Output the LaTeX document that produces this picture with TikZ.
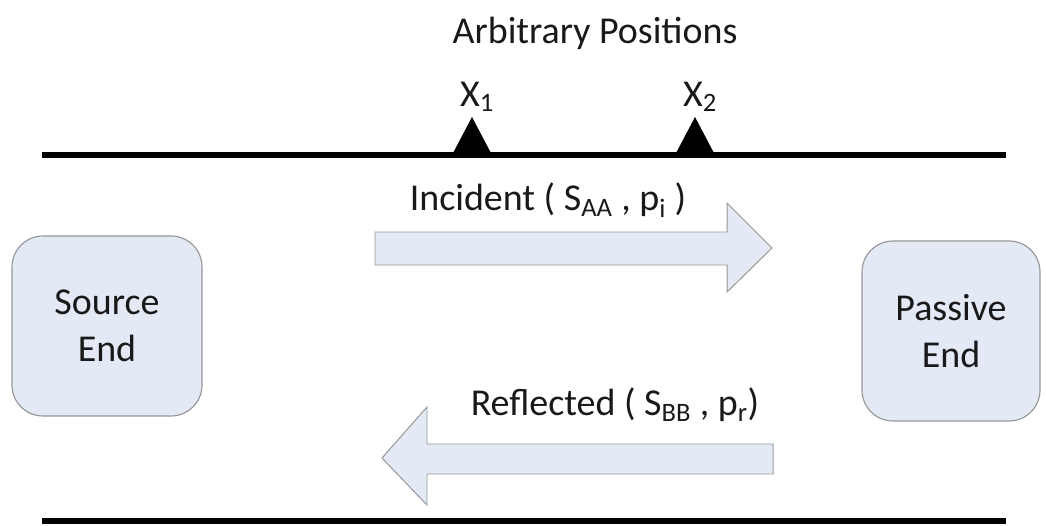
\documentclass[tikz,border=0pt]{standalone}
\usepackage{fontspec}
\setmainfont{Carlito}
\usetikzlibrary{positioning}

\definecolor{endfill}{RGB}{228,234,245}
\definecolor{endline}{RGB}{150,150,150}

\tikzset{
  endbox/.style={draw=endline,fill=endfill,line width=0.8pt,rounded corners=22pt,
    minimum width=190*0.025cm,minimum height=180*0.025cm,align=center,inner sep=0pt},
  wavearrow/.style={draw=endline,fill=endfill,line width=0.7pt,line join=miter},
  lbl/.style={inner sep=0pt,text=black!90,font=\fontsize{27}{33.5}\selectfont}
}

\begin{document}
\begin{tikzpicture}[x=0.025cm,y=-0.025cm]
\useasboundingbox (0,0) rectangle (1046,526);

% 管线上下两条边
\draw[line width=4.3pt] (42,155) -- (1006,155);
\draw[line width=4.3pt] (42,521) -- (1006,521);

% 测点位置（三角）
\def\xone{472}
\def\xtwo{695}
\fill (\xone-20,155) -- (\xone,117) -- (\xone+20,155) -- cycle;
\fill (\xtwo-20,155) -- (\xtwo,117) -- (\xtwo+20,155) -- cycle;
\node[lbl] (pos) at (595,33) {Arbitrary Positions};
\node[lbl] (x1) at (477,97) {X\textsubscript{1}};
\node[lbl] (x2) at (700,97) {X\textsubscript{2}};

% 两端
\node[endbox,lbl] (src) at (107,326) {Source\\End};
\node[endbox,lbl,minimum width=178*0.025cm] (pas) at (951,331) {Passive\\End};

% 入射波
\filldraw[wavearrow] (375,232) -- (727,232) -- (727,203) -- (772,248)
  -- (727,292) -- (727,265) -- (375,265) -- cycle;
\node[lbl] (inc) at (548,200) {Incident ( S\textsubscript{AA} , p\textsubscript{i} )};

% 反射波
\filldraw[wavearrow] (773,444) -- (427,444) -- (427,407) -- (382,458)
  -- (427,505) -- (427,474) -- (773,474) -- cycle;
\node[lbl] (ref) at (615,405) {Reflected ( S\textsubscript{BB} , p\textsubscript{r})};

\end{tikzpicture}
\end{document}
